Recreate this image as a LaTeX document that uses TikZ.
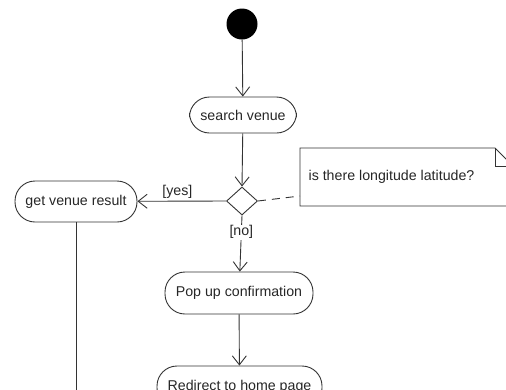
\documentclass[tikz,border=0pt]{standalone}
\usepackage{fontspec}
\setmainfont{Liberation Sans}
\usetikzlibrary{arrows.meta,shapes.geometric}
\begin{document}
\begin{tikzpicture}[x=1pt,y=-1pt,
  every node/.style={font=\fontsize{14.2}{16}\selectfont, text=black!85},
  act/.style={draw=black!80, line width=0.9pt, rectangle, rounded corners=20pt, inner sep=0pt},
  flow/.style={draw=black!80, line width=0.9pt, -{Straight Barb[length=9pt,width=14pt,line width=0.9pt]}},
  plain/.style={draw=black!80, line width=0.9pt},
  lbl/.style={inner sep=1pt}]
\useasboundingbox (0,0) rectangle (506,389);
\clip (0,0) rectangle (506,389);
\node[circle, fill=black, minimum size=31pt, inner sep=0pt] (start) at (242,24) {};
\node[act, minimum width=107pt, minimum height=36pt] (sv) at (243,115) {search venue};
\node[diamond, draw=black!80, line width=0.9pt, minimum width=31pt, minimum height=28pt, inner sep=0pt] (dec) at (242,201) {};
\node[act, minimum width=122pt, minimum height=41pt] (gvr) at (76,201.5) {get venue result};
\node[act, minimum width=148pt, minimum height=42pt] (pop) at (239,293) {Pop up confirmation};
\node[act, minimum width=165pt, minimum height=42pt] (red) at (239.5,387) {Redirect to home page};
\coordinate (gvrend) at (76,395);
% note
\coordinate (nl) at (300,196);
\draw[plain] (300,148) -- (495,148) -- (510,163) -- (510,206) -- (300,206) -- cycle;
\draw[plain] (495,148) -- (495,166) -- (510,166);
\node (notetext) at (391.5,177) {is there longitude latitude?};
% connectors
\draw[flow] (start) -- (sv);
\draw[flow] (sv) -- (dec.north);
\draw[flow] (dec.west) -- node[lbl, above=1pt, pos=0.55] (yes) {[yes]} (gvr);
\draw[flow] (dec.south) -- node[lbl, pos=0.3, fill=white] (no) {[no]} (pop);
\draw[flow] (pop) -- (red);
\draw[plain] (gvr) -- (gvrend);
\draw[plain, dash pattern=on 8pt off 6pt] (dec.east) -- (nl);
\end{tikzpicture}
\end{document}
